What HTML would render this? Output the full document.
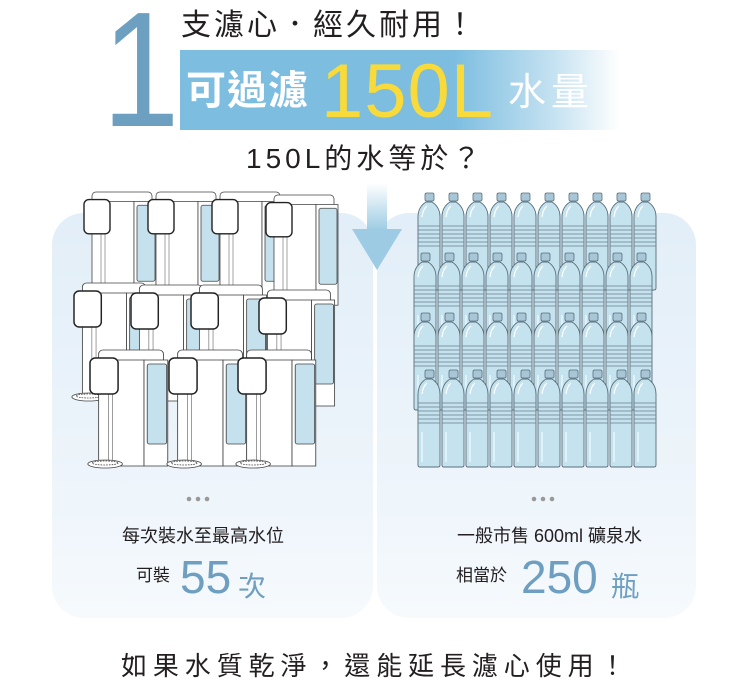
<!DOCTYPE html>
<html><head><meta charset="utf-8"><style>
body{margin:0;width:750px;height:689px;background:#fff;position:relative;overflow:hidden;font-family:"Liberation Sans","Noto Sans CJK TC",sans-serif;color:#231f20}
.a{position:absolute;white-space:nowrap}
.panel{position:absolute;top:213px;height:405px;border-radius:32px;background:linear-gradient(#e2eef8,#eef5fb 70%,#f6fafd)}
</style></head><body>
<div class="panel" style="left:52px;width:321px"></div>
<div class="panel" style="left:377px;width:319px"></div>

<div class="a" style="left:180px;top:50px;width:440px;height:80px;background:linear-gradient(90deg,#7cbde0 0%,#7cbde0 62%,#c5e2f1 85%,#fff 100%)"></div>
<div class="a" style="left:102px;top:-12px;font-size:164px;line-height:164px;color:#6d9fc1;transform:scaleX(0.85);transform-origin:left">1</div>
<div class="a" style="left:181px;top:6px;font-size:30px;letter-spacing:3px;line-height:40px">支濾心．經久耐用！</div>
<div class="a" style="left:186px;top:66px;font-size:40px;line-height:50px;color:#fff;letter-spacing:1px;font-weight:bold">可過濾</div>
<div class="a" style="left:321px;top:50px;font-size:76px;line-height:84px;color:#f8da3a;letter-spacing:1px">150L</div>
<div class="a" style="left:508px;top:70px;font-size:38px;line-height:46px;color:#fff;letter-spacing:5px">水量</div>
<div class="a" style="left:246px;top:140px;font-size:28px;line-height:38px;letter-spacing:4px">150L的水等於？</div>

<svg class="a" style="left:0;top:0" width="750" height="689">
<defs>
<linearGradient id="sh" x1="0" y1="0" x2="0" y2="1"><stop offset="0" stop-color="#fff"/><stop offset="1" stop-color="#9ccbe3"/></linearGradient>
<g id="d">
<rect x="8" y="0" width="60" height="14" rx="4" fill="#fff" stroke="#444" stroke-width="0.8"/>
<rect x="8" y="10" width="42" height="106" fill="#fff" stroke="#444" stroke-width="0.8"/>
<rect x="50" y="10" width="22" height="106" fill="#fff" stroke="#444" stroke-width="0.8"/>
<rect x="53" y="14" width="18" height="80" rx="2" fill="#c6e1ee" stroke="#444" stroke-width="0.8"/>
<line x1="17" y1="40" x2="17" y2="112" stroke="#666" stroke-width="0.6"/>
<line x1="21" y1="40" x2="21" y2="112" stroke="#666" stroke-width="0.6"/>
<rect x="0" y="8" width="26" height="36" rx="5" fill="#fff" stroke="#222" stroke-width="1.4"/>
<ellipse cx="14" cy="114" rx="16" ry="4" fill="#fff" stroke="#444" stroke-width="0.8"/>
<ellipse cx="14" cy="113" rx="12" ry="2" fill="none" stroke="#444" stroke-width="0.8" stroke-dasharray="1.5 1"/>
</g>
<g id="b">
<rect x="8" y="0" width="9" height="8" rx="1.5" fill="#a8c6d6" stroke="#55707e" stroke-width="0.8"/>
<path d="M1,95 L1,24 Q1,14 9,9 L15,9 Q23,14 23,24 L23,95 Q23,97 21,97 L3,97 Q1,97 1,95Z" fill="#c5e2ef" stroke="#5a6e78" stroke-width="0.9"/>
<path d="M5,24 Q6,16 10,13" fill="none" stroke="#fff" stroke-width="1.2"/>
<line x1="5" y1="62" x2="5" y2="92" stroke="#fff" stroke-width="1"/>
<path d="M1,33H23M1,37H23M1,41H23M1,45H23M1,49H23M1,53H23" stroke="#6a7f8a" stroke-width="0.7"/>
</g>
</defs>
<rect x="367" y="183" width="20" height="48" fill="url(#sh)"/>
<path d="M352,229 L402,229 L377,270 Z" fill="#9ccbe3"/>
<use href="#d" transform="translate(84,192) scale(1.0,0.95)"/><use href="#d" transform="translate(148,192) scale(1.0,0.95)"/><use href="#d" transform="translate(212,192) scale(1.0,0.95)"/><use href="#d" transform="translate(266,195) scale(1.0,0.95)"/>
<use href="#d" transform="translate(74,283) scale(1.05,1)"/><use href="#d" transform="translate(131,285) scale(1.05,1)"/><use href="#d" transform="translate(191,285) scale(1.05,1)"/><use href="#d" transform="translate(259,290) scale(1.05,1)"/>
<use href="#d" transform="translate(90,350) scale(1.08,1)"/><use href="#d" transform="translate(169,350) scale(1.08,1)"/><use href="#d" transform="translate(238,350) scale(1.08,1)"/>
<g id="r1"><use href="#b" x="417" y="193"/><use href="#b" x="441" y="193"/><use href="#b" x="465" y="193"/><use href="#b" x="489" y="193"/><use href="#b" x="513" y="193"/><use href="#b" x="537" y="193"/><use href="#b" x="561" y="193"/><use href="#b" x="585" y="193"/><use href="#b" x="609" y="193"/><use href="#b" x="633" y="193"/></g>
<use href="#r1" x="-4" y="60"/><use href="#r1" x="-4" y="120"/><use href="#r1" x="0" y="177"/>
<g fill="#999"><circle cx="189" cy="499" r="2.3"/><circle cx="198" cy="499" r="2.3"/><circle cx="207" cy="499" r="2.3"/><circle cx="534" cy="499" r="2.3"/><circle cx="543" cy="499" r="2.3"/><circle cx="552" cy="499" r="2.3"/></g>
</svg>

<div class="a" style="left:122px;top:524px;font-size:18px;line-height:24px">每次裝水至最高水位</div>
<div class="a" style="left:136px;top:564px;font-size:17px;line-height:24px">可裝</div>
<div class="a" style="left:180px;top:550px;font-size:46px;line-height:54px;color:#6e9fc1">55</div>
<div class="a" style="left:238px;top:570px;font-size:28px;line-height:34px;color:#6e9fc1">次</div>
<div class="a" style="left:457px;top:524px;font-size:18px;line-height:24px">一般市售 600ml 礦泉水</div>
<div class="a" style="left:456px;top:564px;font-size:17px;line-height:24px">相當於</div>
<div class="a" style="left:521px;top:550px;font-size:46px;line-height:54px;color:#6e9fc1">250</div>
<div class="a" style="left:611px;top:570px;font-size:28px;line-height:34px;color:#6e9fc1">瓶</div>
<div class="a" style="left:121px;top:648px;font-size:26px;line-height:36px;letter-spacing:5.9px">如果水質乾淨，還能延長濾心使用！</div>
</body></html>
